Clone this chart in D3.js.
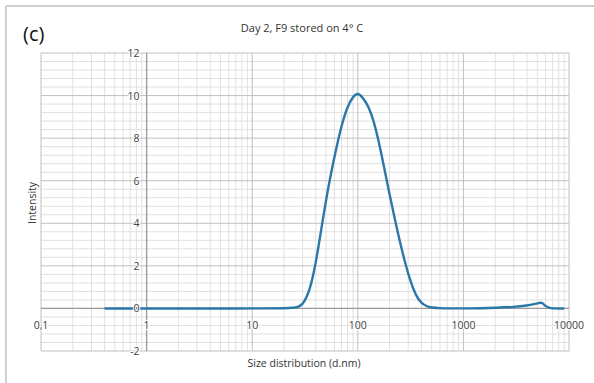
<!DOCTYPE html>
<html lang="en">
<head>
  <meta charset="UTF-8">
  <title>Day 2, F9 stored on 4° C</title>
  <style>
    body { margin: 0; background: #fff; }
    #chart { display: block; }
    .frame { stroke: #cfcfcf; stroke-width: 2; }
    .minor { stroke: #e0e0e0; stroke-width: 1; }
    .major { stroke: #c0c0c0; stroke-width: 1; }
    .axis-line { stroke: #9a9a9a; stroke-width: 1.3; }
    .tick-label { font-family: "Open Sans", sans-serif; font-size: 10.5px; fill: #404040;
                  paint-order: stroke; stroke: #fff; stroke-width: 2px; }
    .title { font-family: "Open Sans", sans-serif; font-size: 11px; fill: #333; }
    .axis-title { font-family: "Open Sans", sans-serif; font-size: 10.5px; fill: #333; }
    .panel { font-family: "Open Sans", sans-serif; font-size: 20px; fill: #111; }
    .curve { fill: none; stroke: #2b78a8; stroke-width: 2.4; }
  </style>
</head>
<body>
  <svg id="chart" width="594" height="383"></svg>
  <script src="https://cdn.jsdelivr.net/npm/d3@7/dist/d3.min.js"></script>
  <script>
    // size (d.nm) and intensity
    const sizes = [0.4, 10, 25, 30, 35, 40, 45, 50, 56, 63, 71, 80, 90, 100,
                   112, 126, 141, 158, 178, 200, 224, 251, 282, 316, 355, 398, 447, 501, 600,
                   700, 1000, 1500, 2000, 3000, 4000, 5000, 5500, 6000, 6500, 9000]
    const intensity = [0, 0, 0, 0.12, 0.8, 2.1, 3.7, 5.1, 6.4, 7.6, 8.7, 9.5, 9.95, 10.15,
                       9.9, 9.5, 8.85, 7.85, 6.6, 5.35, 4.2, 3.1, 2.1, 1.25, 0.6, 0.25, 0.1, 0.04, 0.01,
                       0, 0, 0.01, 0.03, 0.07, 0.13, 0.23, 0.31, 0.1, 0, 0]
    const xTicks = [0.1, 1, 10, 100, 1000, 10000]
    const xTickLabels = ['0,1', '1', '10', '100', '1000', '10000']
    const yTicks = [-2, 0, 2, 4, 6, 8, 10, 12]

    const svg = d3.select('#chart')

    // outer frame (only top and left visible in the original)
    svg.append('line').attr('class', 'frame').attr('x1', 6).attr('x2', 594).attr('y1', 6).attr('y2', 6)
    svg.append('line').attr('class', 'frame').attr('x1', 6).attr('x2', 6).attr('y1', 6).attr('y2', 383)

    const x = d3.scaleLog().domain([0.1, 10000]).range([41, 569])
    const y = d3.scaleLinear().domain([-2, 12]).range([351, 53])

    const g = svg.append('g')

    // minor vertical grid
    const minorX = []
    for (let d = 0.1; d < 10000; d *= 10) {
      for (let k = 2; k <= 9; k++) minorX.push(d * k)
    }
    g.selectAll('.vminor').data(minorX).enter().append('line')
      .attr('class', 'minor')
      .attr('x1', d => x(d)).attr('x2', d => x(d))
      .attr('y1', y(12)).attr('y2', y(-2))

    // minor horizontal grid, every 0.4
    const minorY = d3.range(-2, 12.001, 0.4).filter(v => Math.abs(v / 2 - Math.round(v / 2)) > 0.01)
    g.selectAll('.hminor').data(minorY).enter().append('line')
      .attr('class', 'minor')
      .attr('x1', x(0.1)).attr('x2', x(10000))
      .attr('y1', d => y(d)).attr('y2', d => y(d))

    // major grid
    g.selectAll('.vmajor').data(xTicks).enter().append('line')
      .attr('class', 'major')
      .attr('x1', d => x(d)).attr('x2', d => x(d))
      .attr('y1', y(12)).attr('y2', y(-2))
    g.selectAll('.hmajor').data(yTicks).enter().append('line')
      .attr('class', 'major')
      .attr('x1', x(0.1)).attr('x2', x(10000))
      .attr('y1', d => y(d)).attr('y2', d => y(d))

    // axis lines: y axis crosses at 1, x axis at 0
    g.append('line').attr('class', 'axis-line')
      .attr('x1', x(1)).attr('x2', x(1)).attr('y1', y(12)).attr('y2', y(-2))
    g.append('line').attr('class', 'axis-line')
      .attr('x1', x(0.1)).attr('x2', x(10000)).attr('y1', y(0)).attr('y2', y(0))

    // curve
    const pts = sizes.map((s, i) => [s, intensity[i]])
    const line = d3.line()
      .x(d => x(d[0]))
      .y(d => y(d[1]))
      .curve(d3.curveBasis)
    g.append('path').attr('class', 'curve').attr('d', line(pts))

    // tick labels
    g.selectAll('.ylab').data(yTicks).enter().append('text')
      .attr('class', 'tick-label')
      .attr('x', x(1) - 7).attr('y', d => y(d) + 4)
      .attr('text-anchor', 'end')
      .text(d => d)
    g.selectAll('.xlab').data(xTicks).enter().append('text')
      .attr('class', 'tick-label')
      .attr('x', d => x(d)).attr('y', y(0) + 21)
      .attr('text-anchor', 'middle')
      .text((d, i) => xTickLabels[i])

    // titles
    svg.append('text').attr('class', 'panel').attr('x', 23).attr('y', 41).text('(c)')
    svg.append('text').attr('class', 'title').attr('x', 302).attr('y', 32)
      .attr('text-anchor', 'middle').text('Day 2, F9 stored on 4° C')
    svg.append('text').attr('class', 'axis-title').attr('x', 304).attr('y', 367)
      .attr('text-anchor', 'middle').text('Size distribution (d.nm)')
    svg.append('text').attr('class', 'axis-title')
      .attr('transform', 'translate(36,203) rotate(-90)')
      .attr('text-anchor', 'middle').text('Intensity')
  </script>
</body>
</html>
